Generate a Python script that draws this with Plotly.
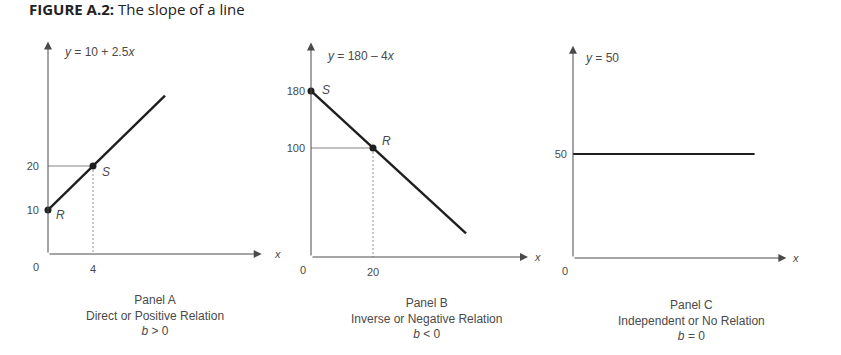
import plotly.graph_objects as go

W, H = 841, 355

# ---------------- data ----------------
# Panel A: y = 10 + 2.5x
a_line_x = [0, 10.4]
a_line_y = [10, 36]
a_pts_x = [0, 4]
a_pts_y = [10, 20]
a_pts_lbl = ["R", "S"]
a_yticks = [10, 20]
a_xticks = [4]

# Panel B: y = 180 - 4x
b_line_x = [0, 50]
b_line_y = [180, -20]
b_pts_x = [0, 20]
b_pts_y = [180, 100]
b_pts_lbl = ["S", "R"]
b_yticks = [100, 180]
b_xticks = [20]

# Panel C: y = 50
c_line_x = [0, 40]
c_line_y = [50, 50]
c_yticks = [50]

equations = ["<i>y</i> = 10 + 2.5<i>x</i>", "<i>y</i> = 180 \u2013 4<i>x</i>", "<i>y</i> = 50"]
captions = [
    "Panel A<br>Direct or Positive Relation<br><i>b</i> > 0",
    "Panel B<br>Inverse or Negative Relation<br><i>b</i> < 0",
    "Panel C<br>Independent or No Relation<br><i>b</i> = 0",
]

# ---------------- helpers ----------------
def fx(px):
    return px / W

def fy(py):
    return 1 - py / H

LINE = "#1e1e1e"
AX = "#4a4a4a"
TXT = "#4a4a4a"
FONT = "Liberation Sans, Arial, sans-serif"

fig = go.Figure()

# panel geometry (pixels) and ranges
panels = [
    dict(xd=(48, 290), yd=(40, 254), xr=[0, 242 / 11.25], yr=[0, 214 / 4.4]),
    dict(xd=(311, 550), yd=(40, 257), xr=[0, 239 / 3.1], yr=[-53, -53 + 217 / 0.7125]),
    dict(xd=(573, 810), yd=(40, 258), xr=[0, 237 / 4.54], yr=[0, 218 / 2.08]),
]

axis_common = dict(showgrid=False, zeroline=False, showline=False, ticks="",
                   tickfont=dict(family=FONT, size=11, color=TXT), fixedrange=True)

layout = {}
for i, p in enumerate(panels):
    sx = "" if i == 0 else str(i + 1)
    layout["xaxis" + sx] = dict(domain=[fx(p["xd"][0]), fx(p["xd"][1])], range=p["xr"],
                                anchor="y" + sx, **axis_common)
    layout["yaxis" + sx] = dict(domain=[fy(p["yd"][1]), fy(p["yd"][0])], range=p["yr"],
                                anchor="x" + sx, **axis_common)

# tick settings
layout["xaxis"].update(tickvals=a_xticks, ticklabelstandoff=7)
layout["yaxis"].update(tickvals=a_yticks, ticklabelstandoff=8)
layout["xaxis2"].update(tickvals=b_xticks, ticklabelstandoff=7)
layout["yaxis2"].update(tickvals=b_yticks, ticklabelstandoff=5)
layout["xaxis3"].update(tickvals=[], ticklabelstandoff=7)
layout["yaxis3"].update(tickvals=c_yticks, ticklabelstandoff=5)

# guide lines
guide = dict(mode="lines", hoverinfo="skip", showlegend=False)
# Panel A guides
fig.add_trace(go.Scatter(x=[0, a_pts_x[1]], y=[a_pts_y[1], a_pts_y[1]], xaxis="x", yaxis="y",
                         line=dict(color="#666", width=0.8), **guide))
fig.add_trace(go.Scatter(x=[a_pts_x[1], a_pts_x[1]], y=[a_pts_y[1], 0], xaxis="x", yaxis="y",
                         line=dict(color="#777", width=0.8, dash="2px,2px"), **guide))
# Panel B guides
fig.add_trace(go.Scatter(x=[0, b_pts_x[1]], y=[b_pts_y[1], b_pts_y[1]], xaxis="x2", yaxis="y2",
                         line=dict(color="#666", width=0.8), **guide))
fig.add_trace(go.Scatter(x=[b_pts_x[1], b_pts_x[1]], y=[b_pts_y[1], panels[1]["yr"][0]],
                         xaxis="x2", yaxis="y2",
                         line=dict(color="#777", width=0.8, dash="2px,2px"), **guide))

# main lines
fig.add_trace(go.Scatter(x=a_line_x, y=a_line_y, xaxis="x", yaxis="y",
                         line=dict(color=LINE, width=2.4), **guide))
fig.add_trace(go.Scatter(x=b_line_x, y=b_line_y, xaxis="x2", yaxis="y2",
                         line=dict(color=LINE, width=2.4), **guide))
fig.add_trace(go.Scatter(x=c_line_x, y=c_line_y, xaxis="x3", yaxis="y3",
                         line=dict(color=LINE, width=2.2), **guide))

# points
fig.add_trace(go.Scatter(x=a_pts_x, y=a_pts_y, xaxis="x", yaxis="y", mode="markers",
                         marker=dict(color=LINE, size=7), showlegend=False, cliponaxis=False))
fig.add_trace(go.Scatter(x=b_pts_x, y=b_pts_y, xaxis="x2", yaxis="y2", mode="markers",
                         marker=dict(color=LINE, size=7), showlegend=False, cliponaxis=False))

annotations = []

# axes with arrowheads
def axis_arrows(sx, x_end, y_end, y0):
    annotations.append(dict(x=x_end, y=y0, ax=0, ay=y0, xref="x" + sx, yref="y" + sx,
                            axref="x" + sx, ayref="y" + sx, text="", showarrow=True,
                            arrowhead=2, arrowsize=1.6, arrowwidth=1, arrowcolor=AX, standoff=0,
                            startstandoff=0))
    annotations.append(dict(x=0, y=y_end, ax=0, ay=y0, xref="x" + sx, yref="y" + sx,
                            axref="x" + sx, ayref="y" + sx, text="", showarrow=True,
                            arrowhead=2, arrowsize=1.6, arrowwidth=1, arrowcolor=AX, standoff=0,
                            startstandoff=0))

axis_arrows("", 19.0, 48.3, 0)
axis_arrows("2", 70.0, 248.0, panels[1]["yr"][0])
axis_arrows("3", 47.0, 102.0, 0)

small = dict(family=FONT, size=11, color=TXT)
# "x" axis labels
for sx, xv, yv in [("", 19.9, 0), ("2", 71.3, panels[1]["yr"][0]), ("3", 47.9, 0)]:
    annotations.append(dict(x=xv, y=yv, xref="x" + sx, yref="y" + sx, text="<i>x</i>",
                            showarrow=False, xanchor="left", yanchor="middle", font=small))
# origin "0" labels
for sx, yv, xs in [("", 0, -12), ("2", panels[1]["yr"][0], -8), ("3", 0, -8)]:
    annotations.append(dict(x=0, y=yv, xref="x" + sx, yref="y" + sx, text="0",
                            showarrow=False, xanchor="center", yanchor="middle",
                            xshift=xs, yshift=-13, font=small))

# equations
eq_pos = [(62, 52), (325, 56), (583, 58)]
for txt, (px, py) in zip(equations, eq_pos):
    annotations.append(dict(x=fx(px), y=fy(py), xref="paper", yref="paper", text=txt,
                            showarrow=False, xanchor="left", yanchor="middle",
                            font=dict(family=FONT, size=12, color=TXT)))

# point labels
lbl_font = dict(family=FONT, size=12, color=TXT)
for xv, yv, t, (xs, ys) in zip(a_pts_x, a_pts_y, a_pts_lbl, [(12, -5), (13, -6)]):
    annotations.append(dict(x=xv, y=yv, xref="x", yref="y", text="<i>" + t + "</i>",
                            showarrow=False, xshift=xs, yshift=ys, font=lbl_font))
for xv, yv, t, (xs, ys) in zip(b_pts_x, b_pts_y, b_pts_lbl, [(15, 1), (13, 7)]):
    annotations.append(dict(x=xv, y=yv, xref="x2", yref="y2", text="<i>" + t + "</i>",
                            showarrow=False, xshift=xs, yshift=ys, font=lbl_font))

# captions
cap_pos = [(155, 315), (426, 318), (691, 320)]
for txt, (px, py) in zip(captions, cap_pos):
    annotations.append(dict(x=fx(px), y=fy(py), xref="paper", yref="paper", text=txt,
                            showarrow=False, xanchor="center", yanchor="middle", align="center",
                            font=dict(family=FONT, size=12, color=TXT)))

# title
annotations.append(dict(x=fx(27), y=fy(9), xref="paper", yref="paper",
                        text="<b>FIGURE A.2:</b> The slope of a line", showarrow=False,
                        xanchor="left", yanchor="middle",
                        font=dict(family="Open Sans, Lato, sans-serif", size=15, color="#222")))

fig.update_layout(**layout)
fig.update_layout(width=W, height=H, margin=dict(l=0, r=0, t=0, b=0),
                  paper_bgcolor="white", plot_bgcolor="white", showlegend=False,
                  annotations=annotations)

fig.write_html("out.html", config={"displayModeBar": False},
               post_script="document.body.style.margin='0px';document.body.style.overflow='hidden';")
